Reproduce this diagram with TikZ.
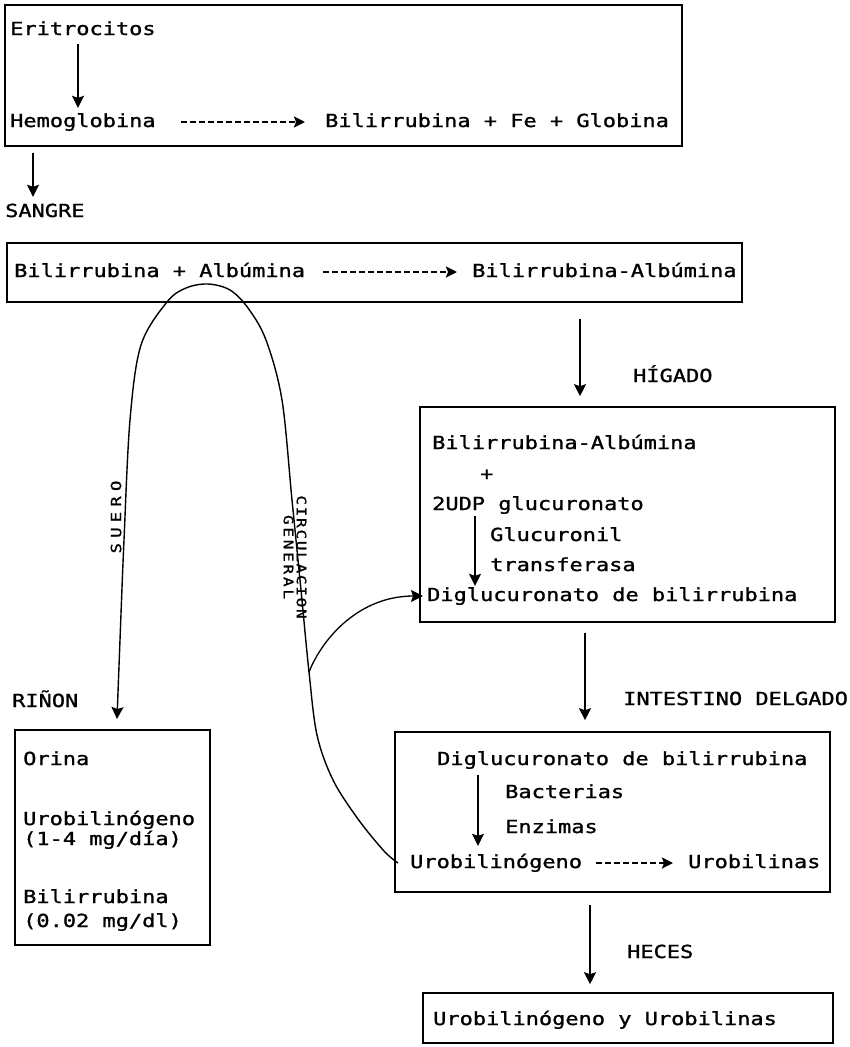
\documentclass[tikz,border=0pt]{standalone}
\usepackage{fontspec}
\setmonofont[FakeStretch=1.22, FakeBold=1.2]{DejaVu Sans Mono}
\usetikzlibrary{arrows.meta}

\begin{document}
\begin{tikzpicture}[x=1pt, y=-1pt, >={Stealth[length=12pt, width=12pt, inset=2pt]},
    font=\ttfamily\fontsize{18}{19}\selectfont,
    txt/.style={anchor=west, inner sep=0pt, text height=13pt, text depth=3pt},
    caja/.style={draw, line width=1.6pt, inner sep=0pt},
    flecha/.style={->, line width=1.3pt},
    rayas/.style={-{Stealth[length=11pt, width=11pt, inset=2pt]}, line width=2.4pt,
        dash pattern=on 6pt off 3pt, shorten <=18pt, shorten >=15pt},
    rotulo/.style={inner sep=0pt, font=\ttfamily\fontsize{13}{13}\selectfont}]

    \useasboundingbox (0,0) rectangle (850,1047);

    % cajas
    \node[caja, minimum width=677pt, minimum height=141pt] (caja1) at (343.5,75.5) {};
    \node[caja, minimum width=735pt, minimum height=59pt] (caja2) at (374.5,272.5) {};
    \node[caja, minimum width=415pt, minimum height=215pt] (caja3) at (627.5,514.5) {};
    \node[caja, minimum width=435pt, minimum height=160pt] (caja4) at (612.5,812) {};
    \node[caja, minimum width=410pt, minimum height=50pt] (caja5) at (628,1018) {};
    \node[caja, minimum width=195pt, minimum height=215pt] (caja6) at (112.5,837.5) {};

    \node[txt] (erit) at (10,30) {Eritrocitos};
    \node[txt] (hemo) at (10,122) {Hemoglobina};
    \node[txt] (bfg) at (325,122) {Bilirrubina + Fe + Globina};
    \node[txt] (sangre) at (5,212) {SANGRE};
    \node[txt] (ba) at (14,272) {Bilirrubina + Albúmina};
    \node[txt] (bal) at (472,272) {Bilirrubina-Albúmina};
    \node[txt] (higado) at (633,377) {HÍGADO};
    \node[txt] (h1) at (432,444) {Bilirrubina-Albúmina};
    \node[txt] (h2) at (480,475) {+};
    \node[txt] (h3) at (432,505) {2UDP glucuronato};
    \node[txt] (h4) at (490,536) {Glucuronil};
    \node[txt] (h5) at (490,566) {transferasa};
    \node[txt] (h6) at (427,596) {Diglucuronato de bilirrubina};
    \node[txt] (intest) at (623,700) {INTESTINO DELGADO};
    \node[txt] (i1) at (437,760) {Diglucuronato de bilirrubina};
    \node[txt] (i2) at (505,793) {Bacterias};
    \node[txt] (i3) at (505,828) {Enzimas};
    \node[txt] (uro) at (410,863) {Urobilinógeno};
    \node[txt] (urb) at (688,863) {Urobilinas};
    \node[txt] (heces) at (627,953) {HECES};
    \node[txt] (f1) at (433,1020) {Urobilinógeno y Urobilinas};
    \node[txt] (rinon) at (12,702) {RIÑON};
    \node[txt] (r1) at (23,760) {Orina};
    \node[txt] (r2) at (23,820) {Urobilinógeno};
    \node[txt] (r3) at (23,840) {(1-4 mg/día)};
    \node[txt] (r4) at (23,898) {Bilirrubina};
    \node[txt] (r5) at (23,922) {(0.02 mg/dl)};

    \coordinate (xEritro) at (78,0);
    \coordinate (xSangre) at (33,0);
    \coordinate (xHigado) at (580,0);
    \coordinate (xUdp) at (475,0);
    \coordinate (xIntest) at (585,0);
    \coordinate (xBact) at (478,0);
    \coordinate (xHeces) at (590,0);
    \coordinate (cruce) at (309,672);
    \coordinate (finRinon) at (117,719);

    \draw[flecha, shorten <=6pt, shorten >=6pt] (erit.south -| xEritro) -- (hemo.north -| xEritro);
    \draw[rayas, shorten <=25pt, shorten >=20pt] (hemo) -- (bfg);
    \draw[flecha, shorten <=6pt, shorten >=7pt] (caja1.south -| xSangre) -- (sangre.north -| xSangre);
    \draw[rayas] (ba) -- (bal);
    \draw[flecha, shorten <=16pt, shorten >=10pt] (caja2.south -| xHigado) -- (caja3.north -| xHigado);
    \draw[flecha, shorten <=3pt, shorten >=2pt] (h3.south -| xUdp) -- (h6.north -| xUdp);
    \draw[flecha, shorten <=10pt, shorten >=11pt] (caja3.south -| xIntest) -- (caja4.north -| xIntest);
    \draw[flecha, shorten <=7pt, shorten >=9pt] (i1.south -| xBact) -- (uro.north -| xBact);
    \draw[rayas, shorten <=14pt, shorten >=15pt] (uro) -- (urb);
    \draw[flecha, shorten <=12pt, shorten >=8pt] (caja4.south -| xHeces) -- (caja5.north -| xHeces);

    % circulacion
    \draw[flecha, line width=1.4pt] plot[smooth, tension=0.55] coordinates {([xshift=-12pt]uro.west)
        (384,851) (358,819) (333,780) (317,735) (cruce) (301,590) (292,500) (282,400)
        (266,340) (248,308) (230,290) (208,284) (186,288) (167,302) (141,345)
        (130,420) (124,540) (120,640) (finRinon)};
    \draw[flecha, shorten >=4pt] (cruce) .. controls (323,637) and (360,596) .. (h6.west);

    \node[rotulo, rotate=90, font=\ttfamily\fontsize{14}{14}\selectfont\addfontfeature{LetterSpace=38}] (suero) at (116,517) {SUERO};
    \node[rotulo, rotate=-90, align=center] (circ) at (295,557)
        {\addfontfeature{LetterSpace=14}CIRCULACION\\\addfontfeature{LetterSpace=22}GENERAL};
\end{tikzpicture}
\end{document}
